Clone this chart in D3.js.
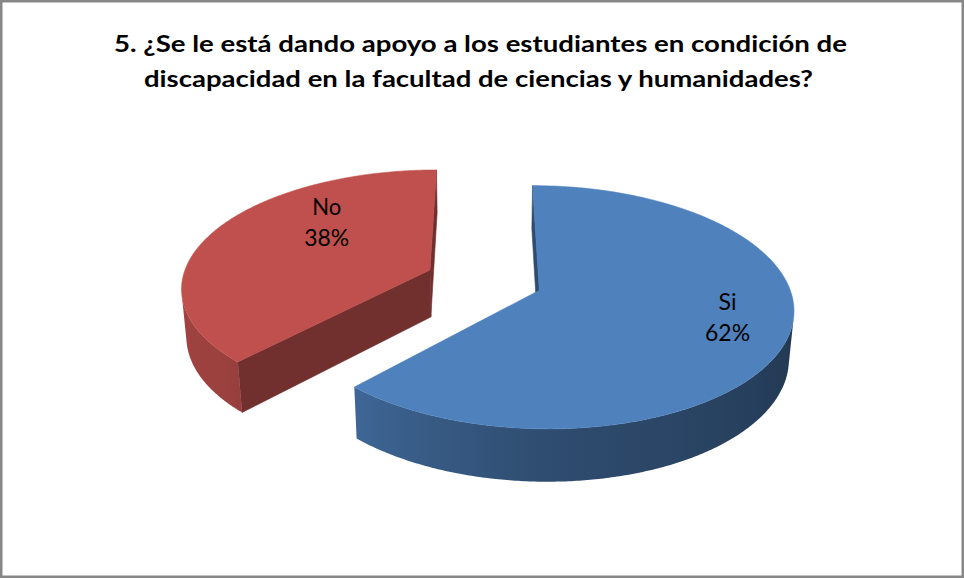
<!DOCTYPE html>
<html><head><meta charset="utf-8">
<script src="https://cdn.jsdelivr.net/npm/d3@7"></script>
<style>html,body{margin:0;padding:0;background:#fff}svg{display:block}</style>
</head><body>
<script>
// ---- data ----
const categories = ["Si", "No"];
const values = [62, 38];
const percentLabels = ["62%", "38%"];
const titleLines = [
  "5. ¿Se le está dando apoyo a los estudiantes en condición de",
  "discapacidad en la facultad de ciencias y humanidades?"
];
const sliceColors = ["#4F81BD", "#C0504D"];

// ---- layout ----
const W = 964, H = 578;
const svg = d3.select("body").append("svg").attr("width", W).attr("height", H);
const defs = svg.append("defs");
svg.append("rect").attr("x", 1.25).attr("y", 1.25).attr("width", W - 2.5).attr("height", H - 2.5)
  .attr("fill", "#fff").attr("stroke", "#878787").attr("stroke-width", 2.5);

// title
const titleTargets = [[114, 847, 52], [144, 813, 87]];
titleLines.forEach((t, i) => {
  const [x0, x1, y] = titleTargets[i];
  svg.append("text").attr("x", (x0 + x1) / 2).attr("y", y)
    .attr("text-anchor", "middle")
    .attr("font-family", "Lato, 'Open Sans', sans-serif").attr("font-weight", "bold")
    .attr("font-size", 22.5).attr("fill", "#000")
    .attr("textLength", x1 - x0).attr("lengthAdjust", "spacingAndGlyphs")
    .text(t);
});

// 3D camera / projection
const phi = 28 * Math.PI / 180, sinP = Math.sin(phi), cosP = Math.cos(phi);
const persp = 0.156;          // R / camera distance
const explode = 0.237, thick = 0.22;
const sx = d3.scaleLinear().domain([-1, 1]).range([484 - 248, 484 + 248]);
const sy = d3.scaleLinear().domain([-1, 1]).range([280 - 248, 280 + 248]);
function project(X, Y, Z) {
  const w = 1 - persp * (Y * sinP + Z * cosP);
  return [sx(X / w), sy((Z * sinP - Y * cosP) / w)];
}
const camD = 1 / persp;
const camPos = [0, camD * sinP, camD * cosP];

const pie = d3.pie().sort(null).value(d => d)(values);
const shade = d3.scaleLinear().domain([0, 90, 180, 225, 270, 360]).range([0.62, 0.40, 0.59, 0.80, 0.86, 0.62]).clamp(true);
function darken(c, f) { const r = d3.rgb(c); return d3.rgb(r.r * f, r.g * f, r.b * f).formatHex(); }
const line = d3.line();

const slices = pie.map((d, i) => {
  const mid = (d.startAngle + d.endAngle) / 2;
  return { d, i, ox: explode * Math.sin(mid), oz: -explode * Math.cos(mid) };
});
slices.sort((a, b) => a.oz - b.oz);

const g = svg.append("g");
slices.forEach(s => {
  const { d, i, ox, oz } = s;
  const col = sliceColors[i];
  const rim = (t, Y) => project(ox + Math.sin(t), Y, oz - Math.cos(t));
  const apex = Y => project(ox, Y, oz);
  const sg = g.append("g");
  // radial faces
  [[d.startAngle, -1], [d.endAngle, 1]].forEach(([t, dir]) => {
    const nx = dir * Math.cos(t), nz = dir * Math.sin(t);
    const px = ox + 0.5 * Math.sin(t), pz = oz - 0.5 * Math.cos(t);
    const vis = (camPos[0] - px) * nx + (camPos[2] - pz) * nz;
    if (vis <= 0) return;
    const pts = [apex(0), rim(t, 0), rim(t, -thick), apex(-thick)];
    const c = darken(col, 0.59);
    sg.append("path").attr("d", line(pts) + "Z").attr("fill", c).attr("stroke", c).attr("stroke-width", 0.6);
  });
  // outer wall: visible angular range as one smooth path with gradient
  const n = 400;
  const vis = [];
  for (let k = 0; k <= n; k++) {
    const t = d.startAngle + (d.endAngle - d.startAngle) * k / n;
    const nx = Math.sin(t), nz = -Math.cos(t);
    const v = (camPos[0] - (ox + nx)) * nx + (camPos[2] - (oz + nz)) * nz;
    if (v > 0) vis.push(t);
  }
  if (vis.length > 1) {
    const topP = vis.map(t => rim(t, 0));
    const botP = vis.map(t => rim(t, -thick)).reverse();
    const xs = topP.map(p => p[0]);
    const xmin = d3.min(xs), xmax = d3.max(xs);
    const gid = "wall" + i;
    const grad = defs.append("linearGradient").attr("id", gid)
      .attr("gradientUnits", "userSpaceOnUse")
      .attr("x1", xmin).attr("x2", xmax).attr("y1", 0).attr("y2", 0);
    const stops = [];
    for (let k = 0; k < vis.length; k += 10) stops.push(vis[k]);
    stops.push(vis[vis.length - 1]);
    stops.map(t => ({ off: (rim(t, 0)[0] - xmin) / (xmax - xmin), c: darken(col, shade(t * 180 / Math.PI)) }))
      .sort((a, b) => a.off - b.off)
      .forEach(st => grad.append("stop").attr("offset", st.off).attr("stop-color", st.c));
    sg.append("path").attr("d", line(topP.concat(botP)) + "Z").attr("fill", `url(#${gid})`);
  }
  // top face
  const topPts = [apex(0)];
  const m = 200;
  for (let k = 0; k <= m; k++) topPts.push(rim(d.startAngle + (d.endAngle - d.startAngle) * k / m, 0));
  sg.append("path").attr("d", line(topPts) + "Z").attr("fill", col).attr("stroke", col).attr("stroke-width", 0.5);
});

// data labels
const labelPolar = [[107, 0.753], [313.9, 0.639]]; // angle (deg), radius fraction
slices.forEach(s => {
  const { i, ox, oz } = s;
  const a = labelPolar[i][0] * Math.PI / 180, r = labelPolar[i][1];
  const [lx, ly] = project(ox + r * Math.sin(a), 0, oz - r * Math.cos(a));
  const lines = [categories[i], percentLabels[i]];
  const widths = [[18, 45], [29, 45]][i];
  lines.forEach((t, j) => {
    svg.append("text").attr("x", lx).attr("y", ly + (j === 0 ? -7 : 23.5))
      .attr("text-anchor", "middle")
      .attr("font-family", "Lato, 'Open Sans', sans-serif")
      .attr("font-size", 24).attr("fill", "#000")
      .attr("textLength", widths[j]).attr("lengthAdjust", "spacingAndGlyphs")
      .text(t);
  });
});
</script>
</body></html>
